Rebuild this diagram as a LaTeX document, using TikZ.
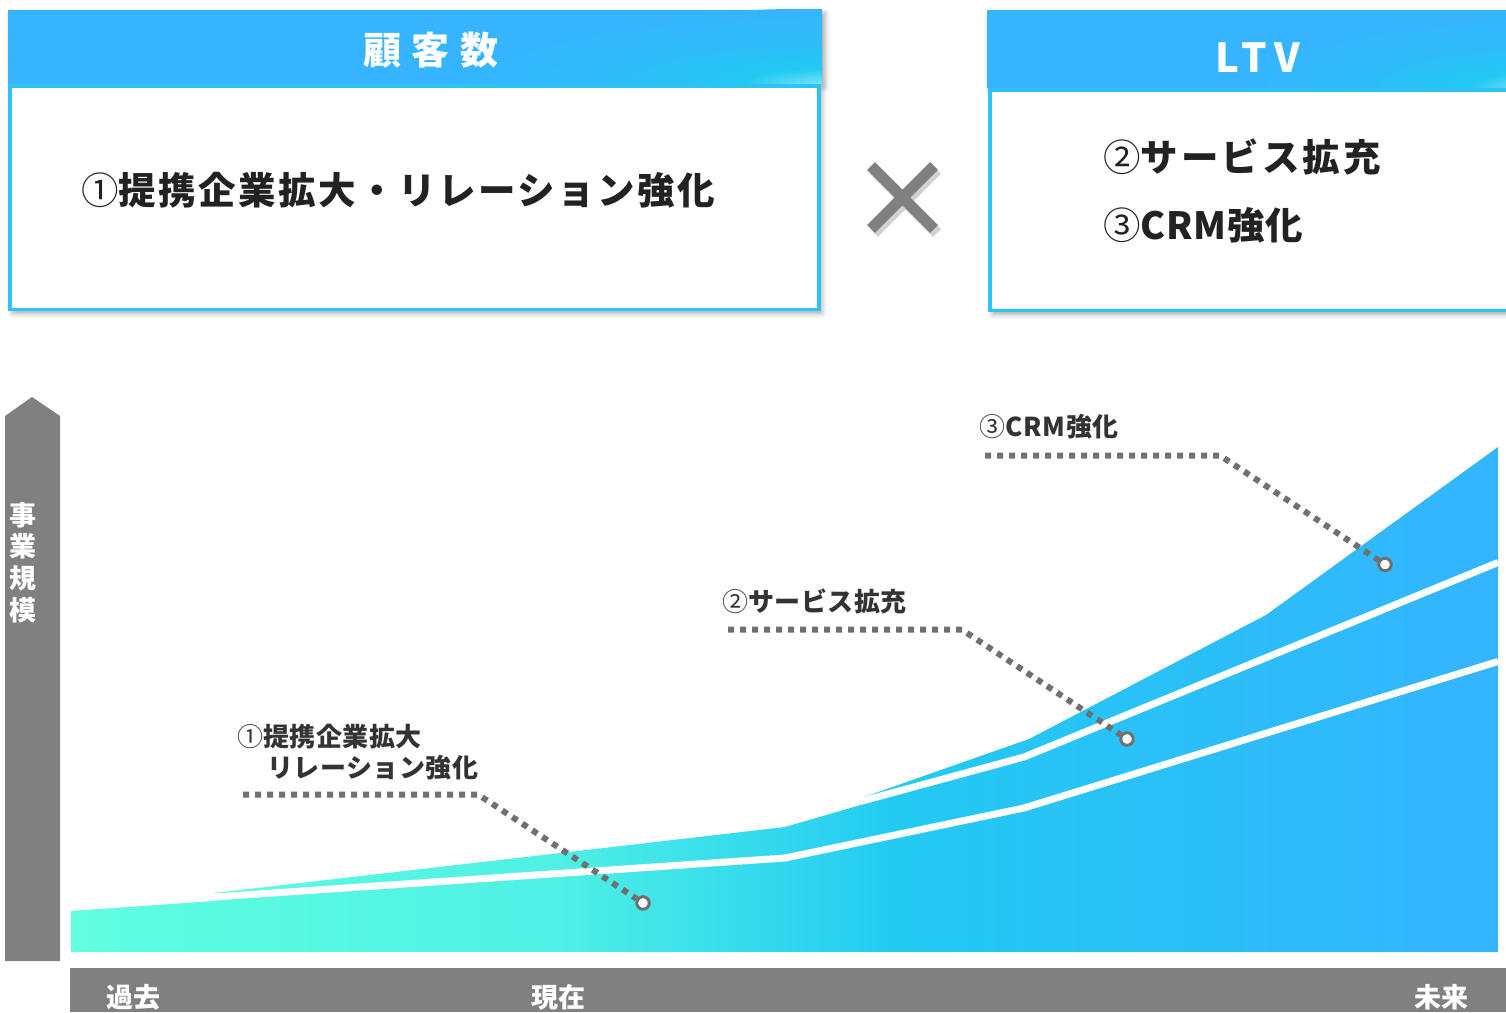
\documentclass[tikz,border=0pt]{standalone}
\usepackage{fontspec}
\setmainfont{Noto Sans CJK JP}
\usetikzlibrary{shadows.blur}
\definecolor{mint}{RGB}{96,255,224}
\definecolor{cyanm}{RGB}{34,202,242}
\definecolor{rblue}{RGB}{52,180,255}
\definecolor{hblue}{RGB}{54,180,255}
\definecolor{glowc}{RGB}{120,226,246}
\definecolor{bordc}{RGB}{44,196,246}
\definecolor{txt}{RGB}{34,34,34}
\definecolor{lbltxt}{RGB}{51,51,51}
\definecolor{lead}{RGB}{112,112,112}
\definecolor{axg}{RGB}{128,128,128}
\newcommand\cnum[1]{\makebox[1em][c]{\mdseries #1}}
\pgfdeclarehorizontalshading{chartgrad}{100bp}{color(0bp)=(mint); color(25bp)=(mint); color(42bp)=(mint!72!cyanm); color(54bp)=(cyanm); color(75bp)=(rblue); color(100bp)=(rblue)}
\pgfdeclareradialshading{hglow}{\pgfpoint{0bp}{0bp}}{color(0bp)=(glowc); color(5bp)=(cyanm); color(13bp)=(cyanm!45!hblue); color(25bp)=(hblue); color(50bp)=(hblue)}
\tikzset{
  hdr/.style={rectangle, inner sep=0, fill=hblue},
  cardbody/.style={rectangle, inner sep=0, fill=white, draw=bordc, line width=3.5},
  cshadow/.style={blur shadow={shadow xshift=3pt, shadow yshift=-4pt, shadow blur radius=5pt, shadow opacity=35}},
  hdrtxt/.style={inner sep=0, text=white, font=\fontsize{38}{40}\selectfont\bfseries},
  bigtxt/.style={inner sep=0, anchor=west, text=txt, font=\fontsize{37.5}{40}\selectfont\bfseries},
  lbl/.style={inner sep=0, anchor=west, text=lbltxt, font=\fontsize{26}{28}\selectfont\bfseries},
  leader/.style={draw=lead, line width=6, dash pattern=on 6pt off 6pt},
  marker/.style={circle, draw=lead, fill=white, line width=3, minimum size=12.5, inner sep=0},
  gap/.style={draw=white, line width=7},
  axislbl/.style={text=white, inner sep=0, font=\fontsize{27}{29}\selectfont\bfseries},
}
\begin{document}
\begin{tikzpicture}[x=1pt,y=-1pt]
\useasboundingbox (0,0) rectangle (1506,1012);
\clip (0,0) rectangle (1506,1012);
% ---- card 1
\node[hdr, cshadow, minimum width=814, minimum height=74] (h1) at (415,46.5) {};
\begin{scope}
  \clip (h1.south west) rectangle (h1.north east);
  \shade[shading=hglow] (h1.south east) ellipse [x radius=380, y radius=75];
\end{scope}
\node[cardbody, cshadow, minimum width=809, minimum height=223.5] (b1) at (414.25,197.5) {};
\node[hdrtxt] (h1t) at (431,50.5) {\addfontfeature{LetterSpace=28}顧客数};
\node[bigtxt] (b1t) at (81,190) {\cnum{①}\addfontfeature{LetterSpace=6.5}提携企業拡大・リレーション強化};
% ---- card 2
\node[hdr, cshadow, minimum width=543, minimum height=78] (h2) at (1258.5,49) {};
\begin{scope}
  \clip (h2.south west) rectangle (h2.north east);
  \shade[shading=hglow] (h2.south east) ellipse [x radius=300, y radius=75];
\end{scope}
\node[cardbody, cshadow, minimum width=540, minimum height=220.5] (b2) at (1260,200) {};
\node[hdrtxt, font=\fontsize{40}{42}\selectfont\bfseries] (h2t) at (1258,57.5) {\addfontfeature{LetterSpace=18}LTV};
\node[bigtxt] (b2t1) at (1103,157) {\cnum{②}\addfontfeature{LetterSpace=8}サービス拡充};
\node[bigtxt] (b2t2) at (1103,225) {\cnum{③}\addfontfeature{LetterSpace=2}CRM強化};
% ---- multiply sign
\draw[line width=11, black, opacity=0.18] (874,170)--(937,233) (937,170)--(874,233);
\draw[line width=11, axg] (871,166)--(934,229) (934,166)--(871,229);
% ---- axes
\fill[axg] (5,416) -- (32,397) -- (60,416) -- (60,961) -- (5,961) -- cycle;
\node[axislbl, align=center, font=\fontsize{27}{31.7}\selectfont\bfseries] (ylab) at (23,562.5) {事\\業\\規\\模};
\fill[axg] (70,968) rectangle (1506,1012);
\node[axislbl] (xpast) at (133.5,997) {過去};
\node[axislbl] (xnow) at (558.5,997) {現在};
\node[axislbl] (xfut) at (1441,997) {未来};
% ---- chart
\shade[shading=chartgrad] (71,911) -- (214,901) -- (214,893) -- (785,827) -- (864,804) -- (864,797) -- (1029,739) -- (1266,615) -- (1498,447) -- (1498,952) -- (71,952) -- cycle;
\draw[gap] (214,897) -- (785,858) -- (1024,808) -- (1498,661.5);
\draw[gap] (860,801.6) -- (1024,757) -- (1498,562.5);
% ---- labels and leaders
\node[lbl] (lab3) at (979,427) {\cnum{③}\addfontfeature{LetterSpace=3}CRM強化};
\node[lbl] (lab2) at (722,601) {\cnum{②}\addfontfeature{LetterSpace=2}サービス拡充};
\node[lbl] (lab1a) at (237,737) {\cnum{①}\addfontfeature{LetterSpace=2}提携企業拡大};
\node[lbl] (lab1b) at (267,768) {\addfontfeature{LetterSpace=2}リレーション強化};
\node[marker] (m1) at (643,903) {};
\node[marker] (m2) at (1127,739) {};
\node[marker] (m3) at (1385,564.5) {};
\coordinate (l1s) at (243,794.5);
\coordinate (l1k) at (478,794.5);
\coordinate (l2s) at (728,629.7);
\coordinate (l2k) at (962,629.7);
\coordinate (l3s) at (985,455.5);
\coordinate (l3k) at (1220,455.5);
\draw[leader] (l1s) -- (l1k) -- (m1);
\draw[leader] (l2s) -- (l2k) -- (m2);
\draw[leader] (l3s) -- (l3k) -- (m3);
\end{tikzpicture}
\end{document}
